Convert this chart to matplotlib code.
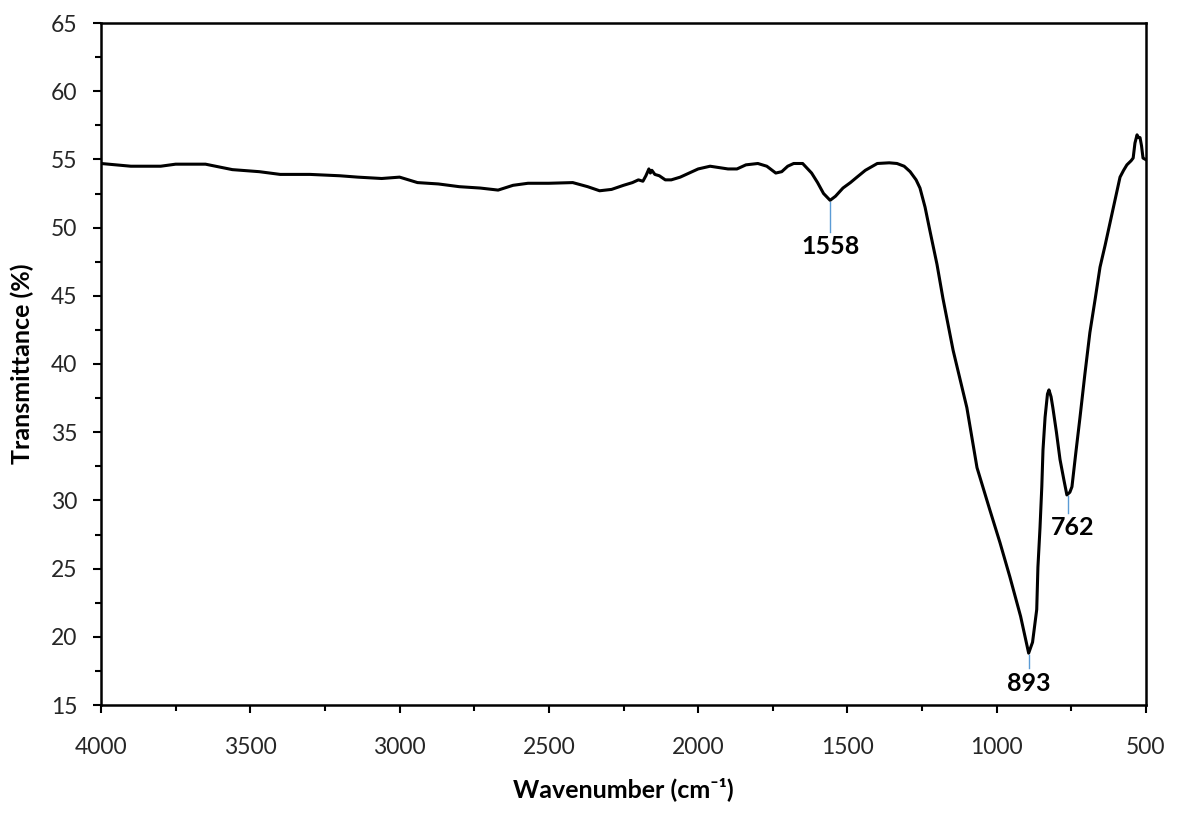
import matplotlib
matplotlib.use("Agg")
import matplotlib.pyplot as plt
from matplotlib.ticker import MultipleLocator

plt.rcParams['font.family'] = ['Lato', 'DejaVu Sans']

wavenumber = [4000, 3900, 3800, 3750, 3650, 3560, 3470, 3400, 3300, 3200, 3140, 3060,
              3000, 2940, 2870, 2800, 2730, 2670, 2620, 2570, 2500, 2420, 2370, 2330,
              2290, 2250, 2220, 2200, 2185, 2175, 2165, 2160, 2155, 2145, 2130, 2110,
              2090, 2060, 2030, 2000, 1960, 1930, 1900, 1870, 1840, 1800, 1770, 1740,
              1720, 1700, 1680, 1650, 1620, 1600, 1580, 1558, 1540, 1515, 1490, 1468,
              1440, 1400, 1360, 1334, 1310, 1290, 1270, 1257, 1240, 1224, 1200, 1180,
              1146, 1100, 1066, 1023, 989, 956, 920, 900, 893, 880, 866, 862, 855, 849,
              845, 838, 830, 825, 818, 812, 800, 788, 775, 765, 755, 748, 735, 721, 705,
              688, 670, 654, 637, 621, 604, 587, 575, 564, 550, 543, 537, 530, 525, 520,
              515, 510, 502]
transmittance = [54.7, 54.5, 54.5, 54.65, 54.65, 54.25, 54.1, 53.9, 53.9, 53.8, 53.7, 53.6,
                 53.7, 53.3, 53.2, 53.0, 52.9, 52.75, 53.1, 53.25, 53.25, 53.3, 53.0, 52.7,
                 52.8, 53.1, 53.3, 53.5, 53.4, 53.8, 54.3, 54.0, 54.2, 53.9, 53.8, 53.5,
                 53.5, 53.7, 54.0, 54.3, 54.5, 54.4, 54.3, 54.3, 54.6, 54.7, 54.5, 54.0,
                 54.1, 54.5, 54.7, 54.7, 54.0, 53.3, 52.5, 52.0, 52.3, 52.9, 53.3, 53.7,
                 54.2, 54.7, 54.75, 54.7, 54.5, 54.1, 53.5, 52.9, 51.5, 49.8, 47.3, 44.8,
                 41.0, 36.8, 32.4, 29.3, 26.9, 24.4, 21.5, 19.5, 18.8, 19.6, 22.0, 25.1, 28.0, 31.0,
                 33.7, 36.1, 37.8, 38.1, 37.6, 36.8, 35.0, 33.0, 31.5, 30.4, 30.6, 31.0, 33.5, 36.1, 39.2,
                 42.3, 44.8, 47.1, 48.7, 50.3, 52.0, 53.7, 54.2, 54.6, 54.9, 55.1, 56.2, 56.8, 56.6, 56.6,
                 56.0, 55.1, 55.0]

peak_positions = [1558, 893, 762]
peak_values = [52.0, 18.8, 30.4]
peak_labels = ["1558", "893", "762"]
label_y = [48.6, 16.6, 28.0]
label_x = [1558, 893, 745]

fig = plt.figure(figsize=(11.79, 8.15), dpi=100)
ax = fig.add_axes([101/1179, 110/815, 1045/1179, 682/815])

ax.plot(wavenumber, transmittance, color='black', lw=2.2, solid_joinstyle='round')

for px, pv, lx, ly, lab in zip(peak_positions, peak_values, label_x, label_y, peak_labels):
    ax.plot([px, px], [pv - 0.1, ly + 1.1], color='#5B9BD5', lw=1)
    ax.text(lx, ly, lab, ha='center', va='center', fontsize=18, fontweight='bold')

ax.set_xlim(4000, 500)
ax.set_ylim(15, 65)
ax.xaxis.set_major_locator(MultipleLocator(500))
ax.xaxis.set_minor_locator(MultipleLocator(250))
ax.yaxis.set_major_locator(MultipleLocator(5))
ax.yaxis.set_minor_locator(MultipleLocator(2.5))

for s in ['top', 'right', 'left', 'bottom']:
    ax.spines[s].set_linewidth(1.8)

ax.tick_params(axis='both', which='major', length=6, width=1.5, labelsize=16.5, color='black')
ax.tick_params(axis='both', which='minor', length=4, width=1.5)
ax.tick_params(axis='x', which='major', pad=17)
ax.tick_params(axis='y', which='major', pad=11)
for lab in ax.get_xticklabels() + ax.get_yticklabels():
    lab.set_color('#262626')

ax.set_xlabel('Wavenumber (cm⁻¹)', fontsize=18, fontweight='bold', labelpad=14)
ax.set_ylabel('Transmittance (%)', fontsize=18, fontweight='bold', labelpad=12)

fig.savefig('out.png', dpi=100)
